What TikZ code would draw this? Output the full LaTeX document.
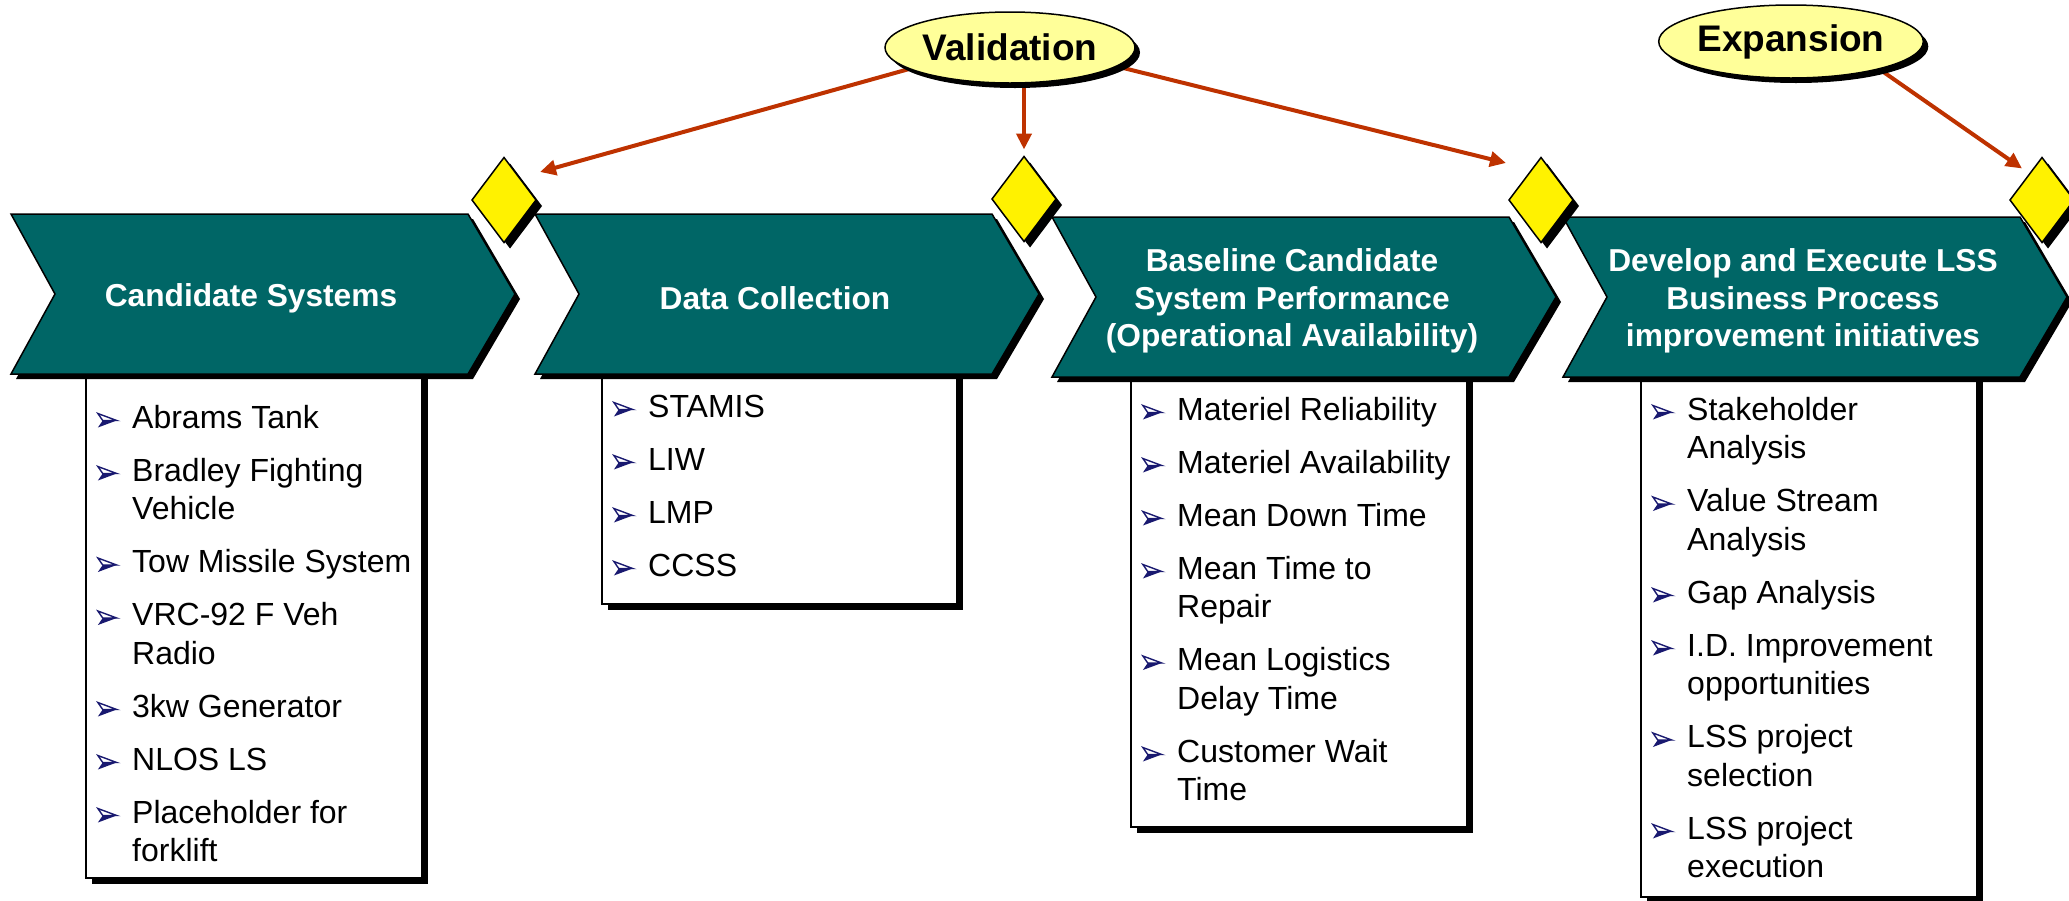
\documentclass[tikz,border=0pt]{standalone}
\usepackage{fontspec}
\setmainfont{Liberation Sans}
\usetikzlibrary{shapes.geometric,shadows,arrows.meta,calc}
\definecolor{chevteal}{RGB}{0,102,102}
\definecolor{arrred}{RGB}{190,50,0}
\definecolor{bltnavy}{RGB}{25,25,112}
\definecolor{ovalfill}{RGB}{255,255,153}
\newsavebox\bltbox
\newcommand\bi[1]{\hbox{\makebox[35pt][l]{\usebox\bltbox}#1}}
\newcommand\bc[1]{\hbox{\hspace{35pt}#1}}
\newcommand\isep{\vskip14.5pt}
\newcommand\mychev[4]{%
  \begin{scope}[shift={(#1,#2)}]
    \fill[black] (5,5)--(462,5)--(509,85)--(462,165)--(5,165)--(49,85)--cycle;
    \filldraw[fill=chevteal, draw=black, line width=1.5pt, line join=miter]
      (0,0)--(457,0)--(504,80)--(457,160)--(0,160)--(44,80)--cycle;
    \node[chevtext] (#3) at (240,84) {#4};
  \end{scope}}
\tikzset{
  chevtext/.style={text=white, font=\fontsize{31.7}{37.5}\selectfont\bfseries, align=center, inner sep=0pt},
  listbox/.style={rectangle, draw=black, line width=1.5pt, fill=white, inner sep=0pt, outer sep=0pt, anchor=north west,
    drop shadow={shadow xshift=6pt, shadow yshift=-6pt, fill=black, opacity=1}},
  listtext/.style={anchor=base west, inner sep=0pt, font=\fontsize{32}{38.5}\selectfont, text=black},
  oval/.style={ellipse, fill=ovalfill, draw=black, line width=1.5pt, inner sep=0pt, outer sep=0pt,
    font=\fontsize{37}{44}\selectfont\bfseries,
    drop shadow={shadow xshift=5pt, shadow yshift=-5pt, fill=black, opacity=1}},
  dia/.style={diamond, minimum width=64pt, minimum height=85pt, inner sep=0pt, outer sep=0pt,
    fill=yellow, draw=black, line width=1.5pt,
    drop shadow={shadow xshift=6pt, shadow yshift=-6pt, fill=black, opacity=1}},
  arr/.style={draw=arrred, line width=4pt, -{Triangle[length=16pt,width=15pt]}}
}
\begin{document}
\sbox\bltbox{\pgfpicture
  \pgfsetbaseline{0pt}%
  \pgfsetstrokecolor{bltnavy}\pgfsetfillcolor{white}\pgfsetlinewidth{1.4pt}\pgfsetmiterjoin
  \pgfpathmoveto{\pgfpoint{0.7pt}{14.5pt}}\pgfpathlineto{\pgfpoint{19.5pt}{7.5pt}}%
  \pgfpathlineto{\pgfpoint{5.5pt}{7.5pt}}\pgfpathclose
  \pgfusepath{fill,stroke}%
  \pgfsetfillcolor{bltnavy}%
  \pgfpathmoveto{\pgfpoint{5.5pt}{7.5pt}}\pgfpathlineto{\pgfpoint{19.5pt}{7.5pt}}%
  \pgfpathlineto{\pgfpoint{0.7pt}{0.5pt}}\pgfpathclose
  \pgfusepath{fill}%
\endpgfpicture}%
\begin{tikzpicture}[x=1pt,y=-1pt]
\useasboundingbox (0,0) rectangle (2069,900);
\clip (0,0) rectangle (2069,900);

% list boxes
\node[listbox, minimum width=336pt, minimum height=506pt] (b1) at (86,372) {};
\node[listbox, minimum width=355pt, minimum height=232pt] (b2) at (602,372) {};
\node[listbox, minimum width=336pt, minimum height=455pt] (b3) at (1131,372) {};
\node[listbox, minimum width=336pt, minimum height=525pt] (b4) at (1641,372) {};

% chevrons
\mychev{11}{214}{c1}{Candidate Systems}
\mychev{535}{214}{c2}{Data Collection}
\mychev{1052}{217}{c3}{Baseline Candidate\\System Performance\\(Operational Availability)}
\mychev{1563}{217}{c4}{Develop and Execute LSS\\Business Process\\improvement initiatives}

% lists
\node[listtext] (l1) at (97,428) {\vtop{\baselineskip=38.5pt\lineskiplimit=-100pt
  \bi{Abrams Tank}\isep
  \bi{Bradley Fighting}\bc{Vehicle}\isep
  \bi{Tow Missile System}\isep
  \bi{VRC-92 F Veh}\bc{Radio}\isep
  \bi{3kw Generator}\isep
  \bi{NLOS LS}\isep
  \bi{Placeholder for}\bc{forklift}}};
\node[listtext] (l2) at (613,417) {\vtop{\baselineskip=38.5pt\lineskiplimit=-100pt
  \bi{STAMIS}\isep
  \bi{LIW}\isep
  \bi{LMP}\isep
  \bi{CCSS}}};
\node[listtext] (l3) at (1142,420) {\vtop{\baselineskip=38.5pt\lineskiplimit=-100pt
  \bi{Materiel Reliability}\isep
  \bi{Materiel Availability}\isep
  \bi{Mean Down Time}\isep
  \bi{Mean Time to}\bc{Repair}\isep
  \bi{Mean Logistics}\bc{Delay Time}\isep
  \bi{Customer Wait}\bc{Time}}};
\node[listtext] (l4) at (1652,420) {\vtop{\baselineskip=38.5pt\lineskiplimit=-100pt
  \bi{Stakeholder}\bc{Analysis}\isep
  \bi{Value Stream}\bc{Analysis}\isep
  \bi{Gap Analysis}\isep
  \bi{I.D. Improvement}\bc{opportunities}\isep
  \bi{LSS project}\bc{selection}\isep
  \bi{LSS project}\bc{execution}}};

% milestone diamonds
\node[dia] (d1) at (504,200) {};
\node[dia] (d2) at (1024,199) {};
\node[dia] (d3) at (1541,200) {};
\node[dia] (d4) at (2042,200) {};

% oval geometry (for connector anchors)
\path (1010,47.5) coordinate (valc) (1791,41.5) coordinate (expc);
\node[ellipse, minimum width=250pt, minimum height=71pt, inner sep=0pt, outer sep=0pt] (valg) at (valc) {};
\node[ellipse, minimum width=252pt, minimum height=73pt, inner sep=0pt, outer sep=0pt] (expg) at (expc) {};

% arrows
\draw[arr] (valg.192) -- ([shift={(4,-28)}]d1.east);
\draw[arr] (valg.south -| d2.north) -- ([shift={(0,-7)}]d2.north);
\draw[arr] (valg.350) -- ([shift={(-3,-37)}]d3.west);
\draw[arr] (expg.343) -- ([shift={(-20,11)}]d4.north);

\node[oval, minimum width=250pt, minimum height=71pt] (val) at (valc) {Validation};
\node[oval, minimum width=252pt, minimum height=73pt] (exp) at (expc) {Expansion};
\end{tikzpicture}
\end{document}
